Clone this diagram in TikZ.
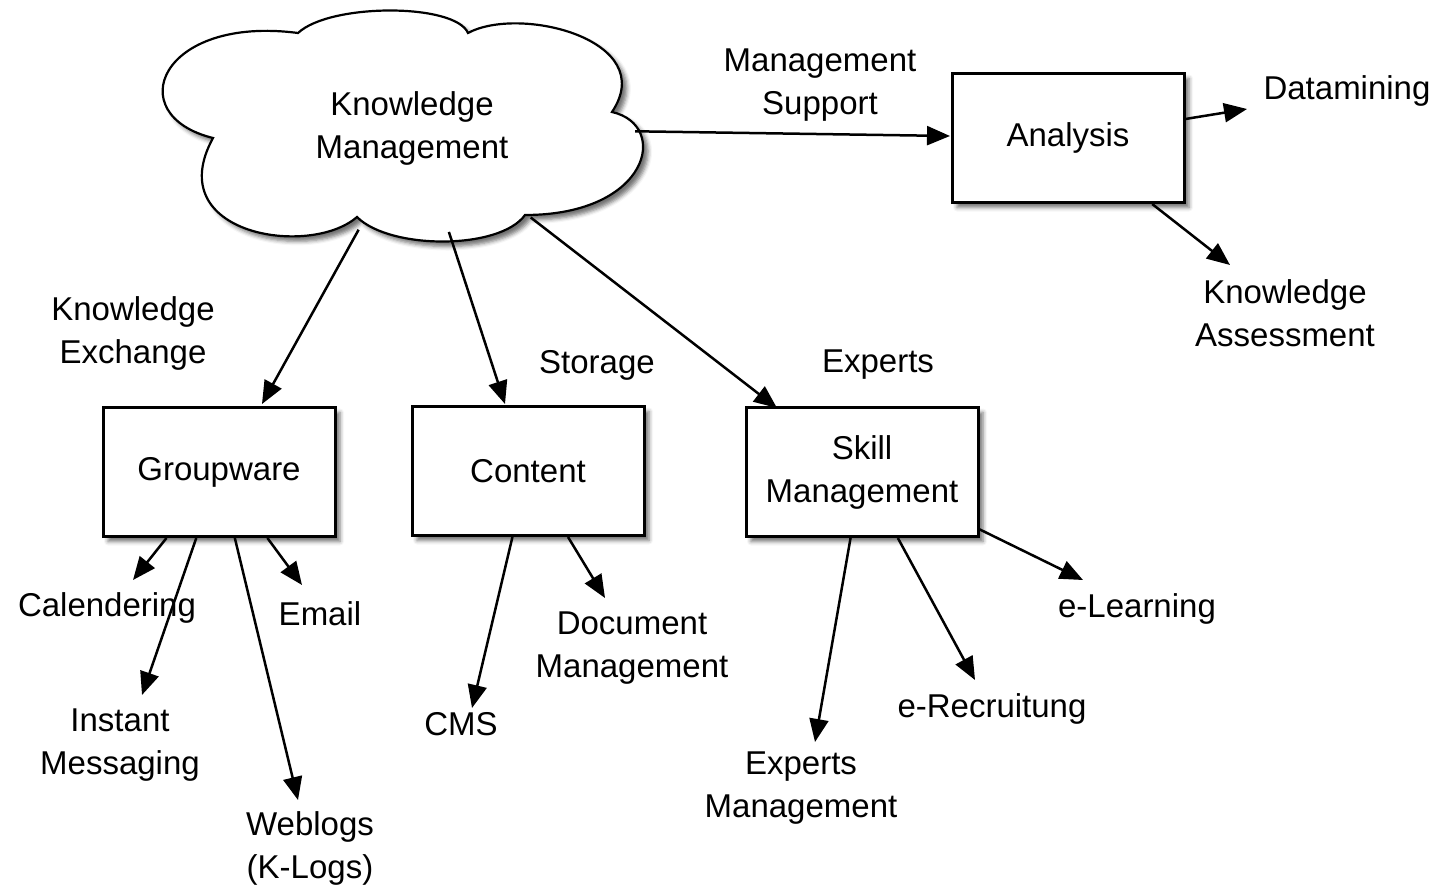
\documentclass[tikz,border=0pt]{standalone}
\usepackage{fontspec}
\setmainfont{Liberation Sans}
\usetikzlibrary{shapes.geometric,shadows.blur,arrows.meta}

\tikzset{
  myshadow/.style={blur shadow={shadow xshift=5pt, shadow yshift=-5pt, shadow blur radius=4pt, shadow opacity=55}},
  box/.style={draw, line width=3pt, fill=white, minimum width=232pt, minimum height=129pt,
    align=center, myshadow},
  cloudline/.style={draw, line width=2.2pt, fill=white, line join=miter, myshadow},
  kmarea/.style={ellipse, minimum width=440pt, minimum height=210pt, align=center, inner sep=0pt},
  lbl/.style={align=center, inner sep=0pt},
  arr/.style={-{Triangle[length=23pt, width=19pt, fill=black]}, line width=2.5pt, draw=black}
}

\begin{document}
\begin{tikzpicture}[x=1pt, y=-1pt, font=\fontsize{33}{43}\selectfont]
   \useasboundingbox (0,0) rectangle (1438,888);

   % cloud outline
   \path[cloudline] (298,33) .. controls (330,3) and (455,3) .. (468,33)
     .. controls (520,5) and (660,40) .. (612,112)
     .. controls (670,125) and (650,215) .. (525,215)
     .. controls (500,250) and (390,250) .. (357,217)
     .. controls (310,258) and (160,235) .. (213,138)
     .. controls (120,115) and (160,15) .. (298,33) -- cycle;

   % main nodes
   \node[kmarea] (km) at (415,128) {};
   \node[lbl] (kmtext) at (412,128) {Knowledge\\Management};
   \node[box] (ana) at (1068,138) {Analysis};
   \node[box] (gw) at (219,472) {Groupware};
   \node[box] (cont) at (528,471) {Content};
   \node[box] (skill) at (862,472) {Skill\\Management};

   % labels
   \node[lbl] (supp) at (820,85) {Management\\Support};
   \node[lbl] (dm) at (1347,91) {Datamining};
   \node[lbl] (kass) at (1285,313) {Knowledge\\Assessment};
   \node[lbl] (kex) at (133,333) {Knowledge\\Exchange};
   \node[lbl] (stor) at (597,365) {Storage};
   \node[lbl] (exp) at (878,365) {Experts};
   \node[lbl] (cal) at (107,608) {Calendering};
   \node[lbl] (mail) at (320,614) {Email};
   \node[lbl] (im) at (120,745) {Instant\\Messaging};
   \node[lbl] (wlog) at (310,848) {Weblogs\\(K-Logs)};
   \node[lbl] (cms) at (461,724) {CMS};
   \node[lbl] (doc) at (632,648) {Document\\Management};
   \node[lbl] (elearn) at (1137,609) {e-Learning};
   \node[lbl] (erec) at (992,709) {e-Recruitung};
   \node[lbl] (expm) at (801,788) {Experts\\Management};

   % arrow tips
   \coordinate (anaIn) at (950,136);
   \coordinate (dmTip) at (1247,109);
   \coordinate (kassTip) at (1230,265);
   \coordinate (gwIn) at (262,404);
   \coordinate (contIn) at (505,404);
   \coordinate (skillIn) at (777,408);
   \coordinate (calTip) at (133,580);
   \coordinate (imTip) at (142,695);
   \coordinate (wlogTip) at (298,800);
   \coordinate (mailTip) at (302,585);
   \coordinate (cmsTip) at (472,708);
   \coordinate (docTip) at (605,598);
   \coordinate (expmTip) at (815,742);
   \coordinate (erecTip) at (975,680);
   \coordinate (elearnTip) at (1083,580);

   \draw[arr] (km) -- (anaIn);
   \draw[arr] (ana) -- (dmTip);
   \draw[arr] (ana) -- (kassTip);
   \draw[arr] (km) -- (gwIn);
   \draw[arr] (km) -- (contIn);
   \draw[arr] (km) -- (skillIn);
   \draw[arr] (gw) -- (calTip);
   \draw[arr] (gw) -- (imTip);
   \draw[arr] (gw) -- (wlogTip);
   \draw[arr] (gw) -- (mailTip);
   \draw[arr] (cont) -- (cmsTip);
   \draw[arr] (cont) -- (docTip);
   \draw[arr] (skill) -- (expmTip);
   \draw[arr] (skill) -- (erecTip);
   \draw[arr] (skill) -- (elearnTip);
\end{tikzpicture}
\end{document}
